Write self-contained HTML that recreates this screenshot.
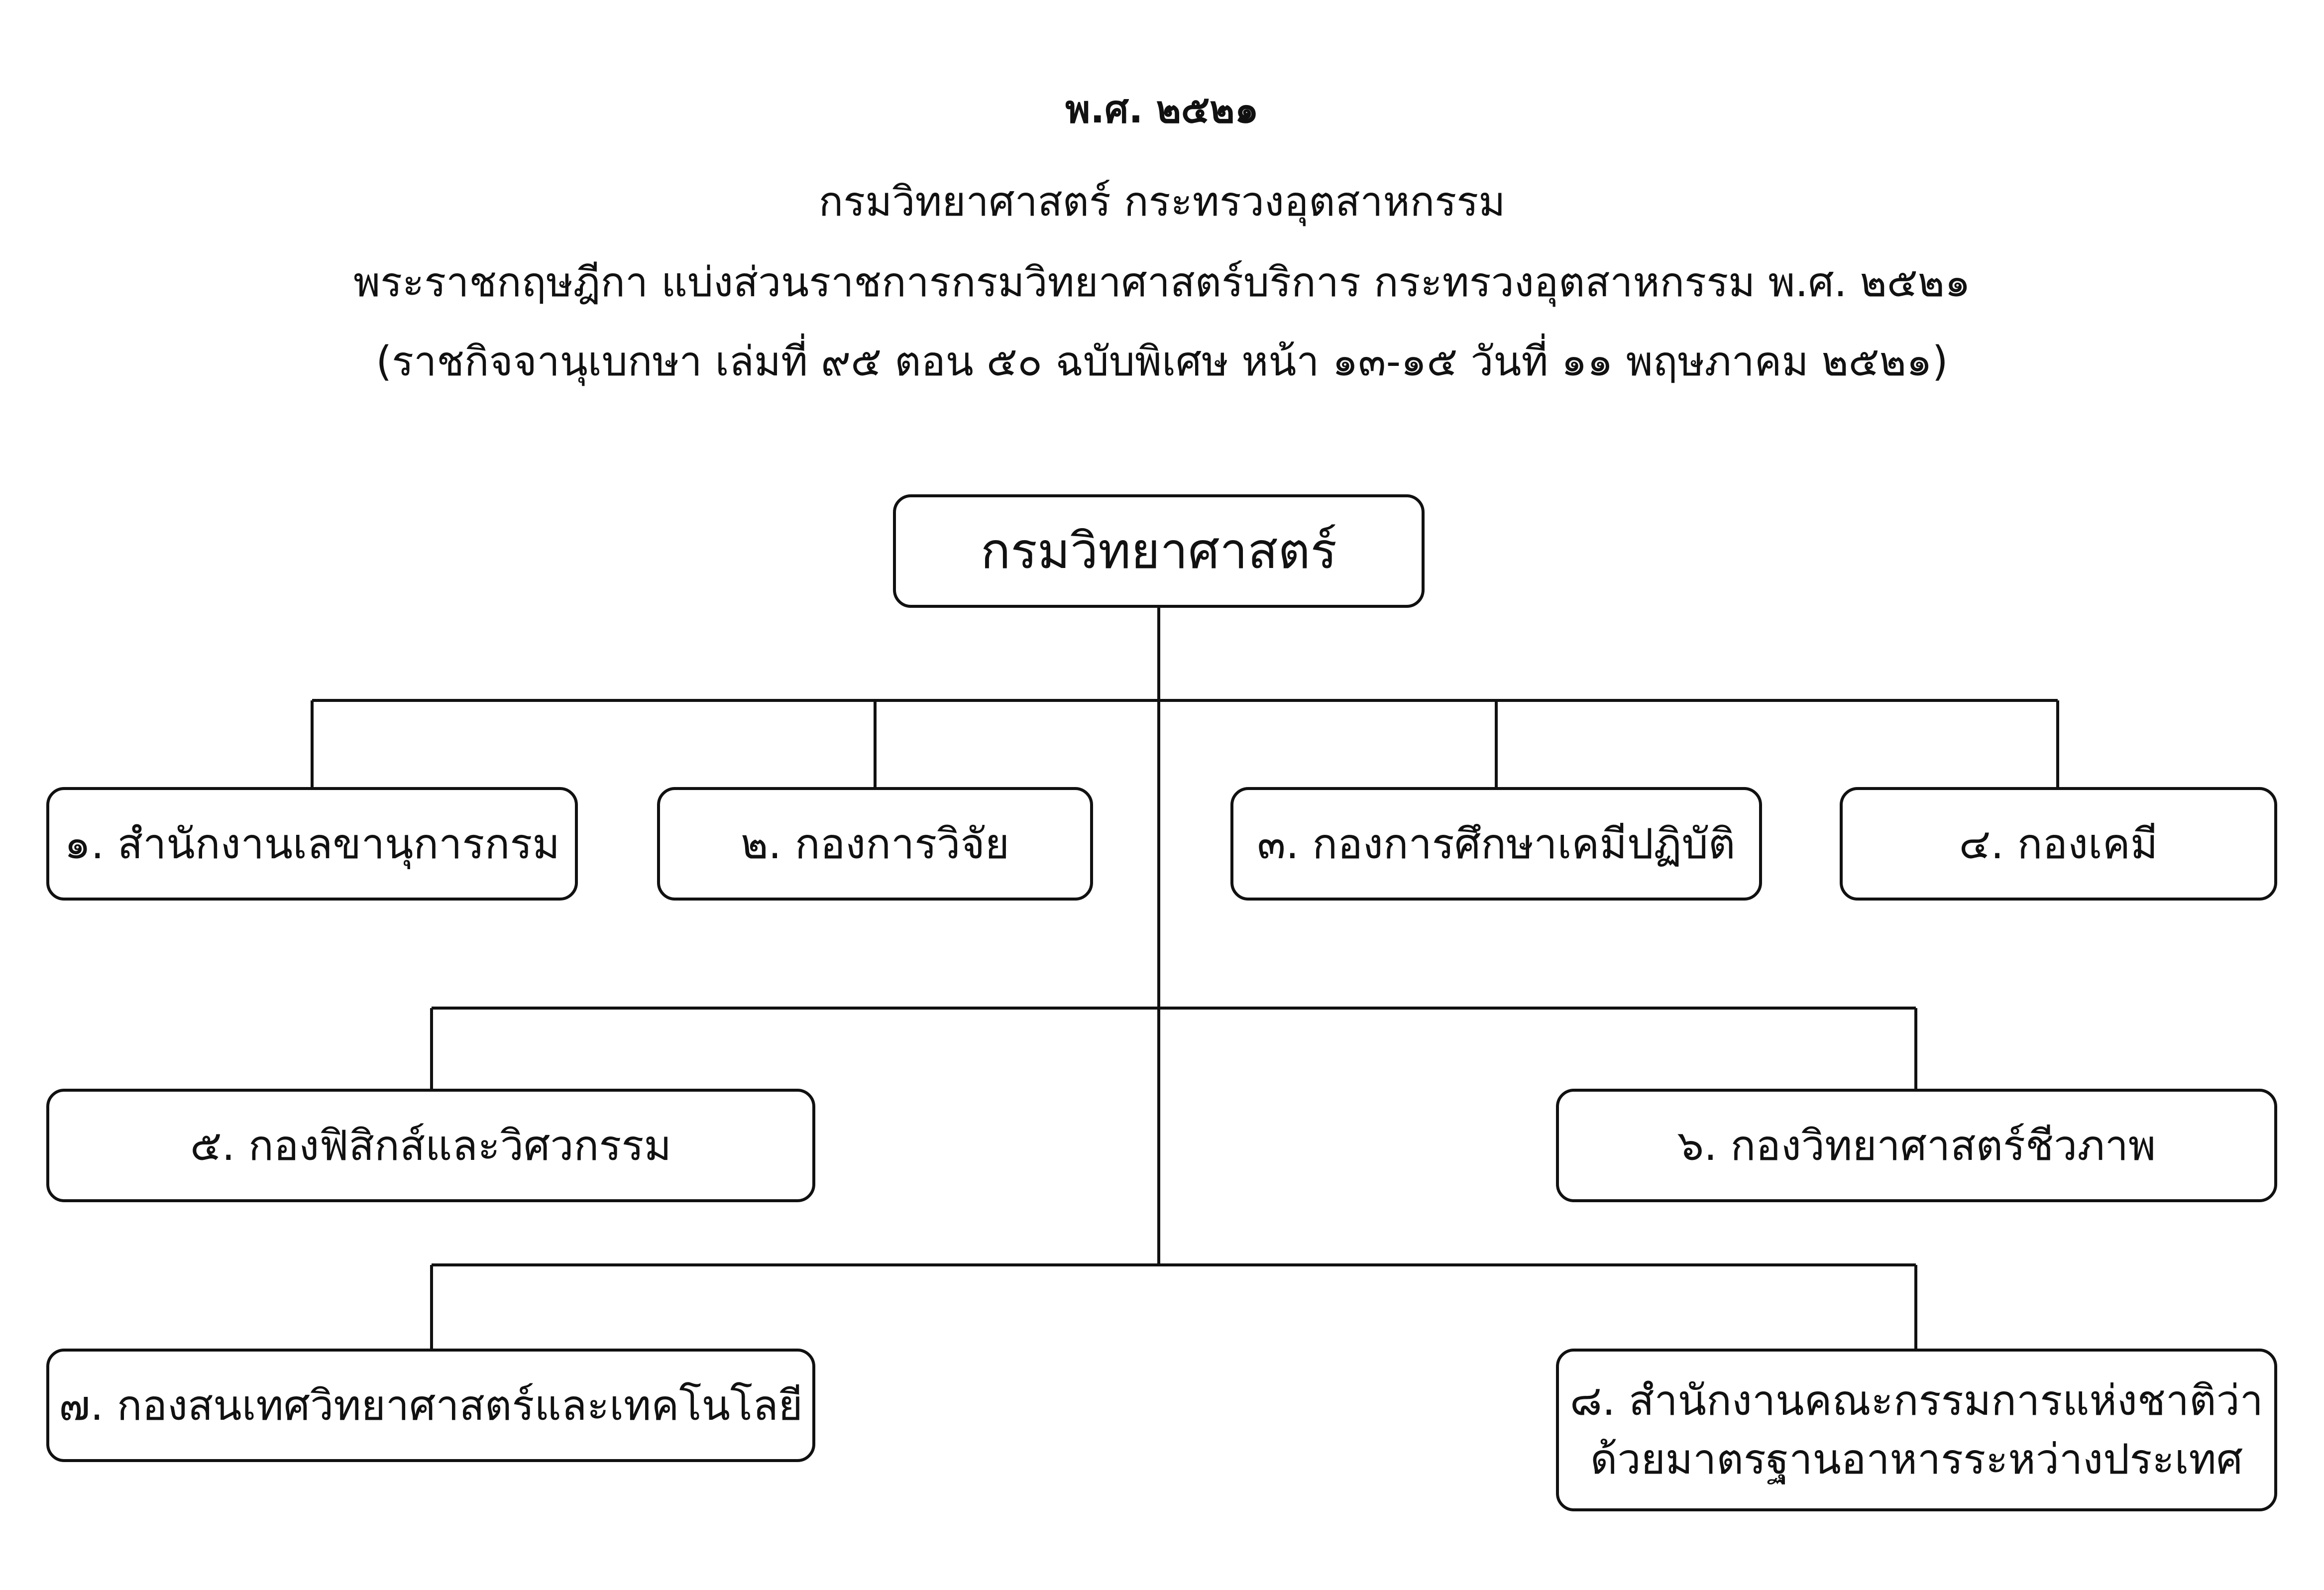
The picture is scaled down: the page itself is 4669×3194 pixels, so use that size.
<!DOCTYPE html>
<html><head><meta charset="utf-8"><style>
html,body{margin:0;padding:0;background:#fff;}
body{width:4669px;height:3194px;position:relative;overflow:hidden;font-family:"DejaVu Sans","Liberation Sans",sans-serif;color:#111;}
.t{position:absolute;left:0;width:4669px;text-align:center;white-space:nowrap;}
.b{position:absolute;box-sizing:border-box;border:6px solid #111;border-radius:36px;display:flex;align-items:center;justify-content:center;text-align:center;font-size:84px;line-height:1.2;background:#fff;white-space:nowrap;}
svg{position:absolute;left:0;top:0;}
</style></head><body>
<svg width="4669" height="3194"><g stroke="#111" stroke-width="6" fill="none">
<line x1="2328" y1="1221" x2="2328" y2="2541"/>
<line x1="627" y1="1407" x2="4134" y2="1407"/>
<line x1="627" y1="1407" x2="627" y2="1581"/>
<line x1="1758" y1="1407" x2="1758" y2="1581"/>
<line x1="3006" y1="1407" x2="3006" y2="1581"/>
<line x1="4134" y1="1407" x2="4134" y2="1581"/>
<line x1="867" y1="2025" x2="3849" y2="2025"/>
<line x1="867" y1="2025" x2="867" y2="2187"/>
<line x1="3849" y1="2025" x2="3849" y2="2187"/>
<line x1="867" y1="2541" x2="3849" y2="2541"/>
<line x1="867" y1="2541" x2="867" y2="2709"/>
<line x1="3849" y1="2541" x2="3849" y2="2709"/>
</g></svg>
<div class="t" style="top:160px;font-size:76px;font-weight:bold;">พ.ศ. ๒๕๒๑</div>
<div class="t" style="top:340px;font-size:82px;">กรมวิทยาศาสตร์ กระทรวงอุตสาหกรรม</div>
<div class="t" style="top:502px;font-size:82px;">พระราชกฤษฎีกา แบ่งส่วนราชการกรมวิทยาศาสตร์บริการ กระทรวงอุตสาหกรรม พ.ศ. ๒๕๒๑</div>
<div class="t" style="top:661px;font-size:82px;">(ราชกิจจานุเบกษา เล่มที่ ๙๕ ตอน ๕๐ ฉบับพิเศษ หน้า ๑๓-๑๕ วันที่ ๑๑ พฤษภาคม ๒๕๒๑)</div>
<div class="b" style="left:1794px;top:993px;width:1068px;height:228px;font-size:100px;">กรมวิทยาศาสตร์</div>
<div class="b" style="left:93px;top:1581px;width:1068px;height:228px;">๑. สำนักงานเลขานุการกรม</div>
<div class="b" style="left:1320px;top:1581px;width:876px;height:228px;">๒. กองการวิจัย</div>
<div class="b" style="left:2472px;top:1581px;width:1068px;height:228px;">๓. กองการศึกษาเคมีปฏิบัติ</div>
<div class="b" style="left:3696px;top:1581px;width:879px;height:228px;">๔. กองเคมี</div>
<div class="b" style="left:93px;top:2187px;width:1545px;height:228px;">๕. กองฟิสิกส์และวิศวกรรม</div>
<div class="b" style="left:3126px;top:2187px;width:1449px;height:228px;">๖. กองวิทยาศาสตร์ชีวภาพ</div>
<div class="b" style="left:93px;top:2709px;width:1545px;height:228px;">๗. กองสนเทศวิทยาศาสตร์และเทคโนโลยี</div>
<div class="b" style="left:3126px;top:2709px;width:1449px;height:327px;line-height:1.4;">๘. สำนักงานคณะกรรมการแห่งชาติว่า<br>ด้วยมาตรฐานอาหารระหว่างประเทศ</div>
</body></html>
